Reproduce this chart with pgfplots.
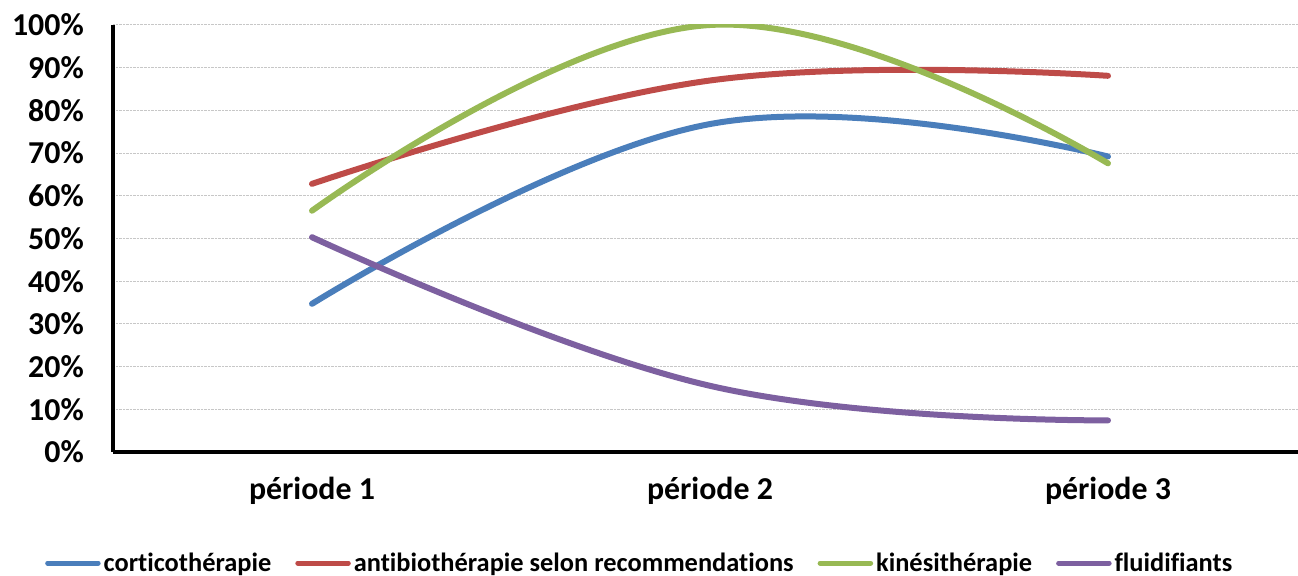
\documentclass[border=0pt]{standalone}
\usepackage{fontspec}
\setmainfont{Carlito}[Ligatures=NoCommon]
\usepackage{pgfplots}
\pgfplotsset{compat=1.18}
\definecolor{cblue}{HTML}{4A7EBB}
\definecolor{cred}{HTML}{BE4B48}
\definecolor{cgreen}{HTML}{98B954}
\definecolor{cpurple}{HTML}{7D60A0}
\begin{document}
\begin{tikzpicture}
\useasboundingbox (0,0) rectangle (1298bp,576bp);
\clip (0,0) rectangle (1298bp,576bp);
\begin{axis}[
  at={(113bp,124bp)}, anchor=south west,
  scale only axis, width=1185bp, height=427bp,
  xmin=0.5, xmax=3.4774, ymin=0, ymax=100,
  axis x line*=bottom, axis y line*=left,
  axis line style={line width=4bp, black},
  major tick length=0pt,
  xtick={1,2,3}, xticklabels={période 1,période 2,période 3},
  ytick={0,10,...,100},
  yticklabels={0\%,10\%,20\%,30\%,40\%,50\%,60\%,70\%,80\%,90\%,100\%},
  ticklabel style={font=\fontsize{32}{36}\selectfont\bfseries, inner sep=0pt},
  yticklabel style={xshift=-29bp},
  xticklabel style={yshift=-25bp},
  ymajorgrids, grid style={densely dotted, black!22, line width=1bp},
  legend columns=4,
  legend style={at={(-0.0574,-0.2600)}, anchor=west, draw=none, fill=none, inner sep=0pt,
    font=\fontsize{26.5}{30}\selectfont\bfseries,
    nodes={inner xsep=3bp},
    /tikz/every even column/.append style={column sep=21bp}},
  legend image code/.code={\draw[#1, line width=5bp, line cap=round] (2.5bp,0bp) -- (53bp,0bp);},
  every axis plot/.append style={line width=6bp, line cap=round},
]
\addplot[cblue, smooth, tension=0.7] coordinates {(1,34.7) (2,76.8) (3,69.2)};
\addlegendentry{corticothérapie}
\addplot[cred, smooth, tension=0.7] coordinates {(1,62.8) (2,87.0) (3,88.1)};
\addlegendentry{antibiothérapie selon recommendations}
\addplot[cgreen, smooth, tension=0.7] coordinates {(1,56.5) (2,100) (3,67.6)};
\addlegendentry{kinésithérapie}
\addplot[cpurple, smooth, tension=0.7] coordinates {(1,50.3) (2,15.5) (3,7.4)};
\addlegendentry{fluidifiants}
\draw[black!25, line width=1.5bp] ([yshift=-2.8bp]axis cs:0.5,0) -- ([yshift=-2.8bp]axis cs:3.4774,0);
\end{axis}
\end{tikzpicture}
\end{document}
